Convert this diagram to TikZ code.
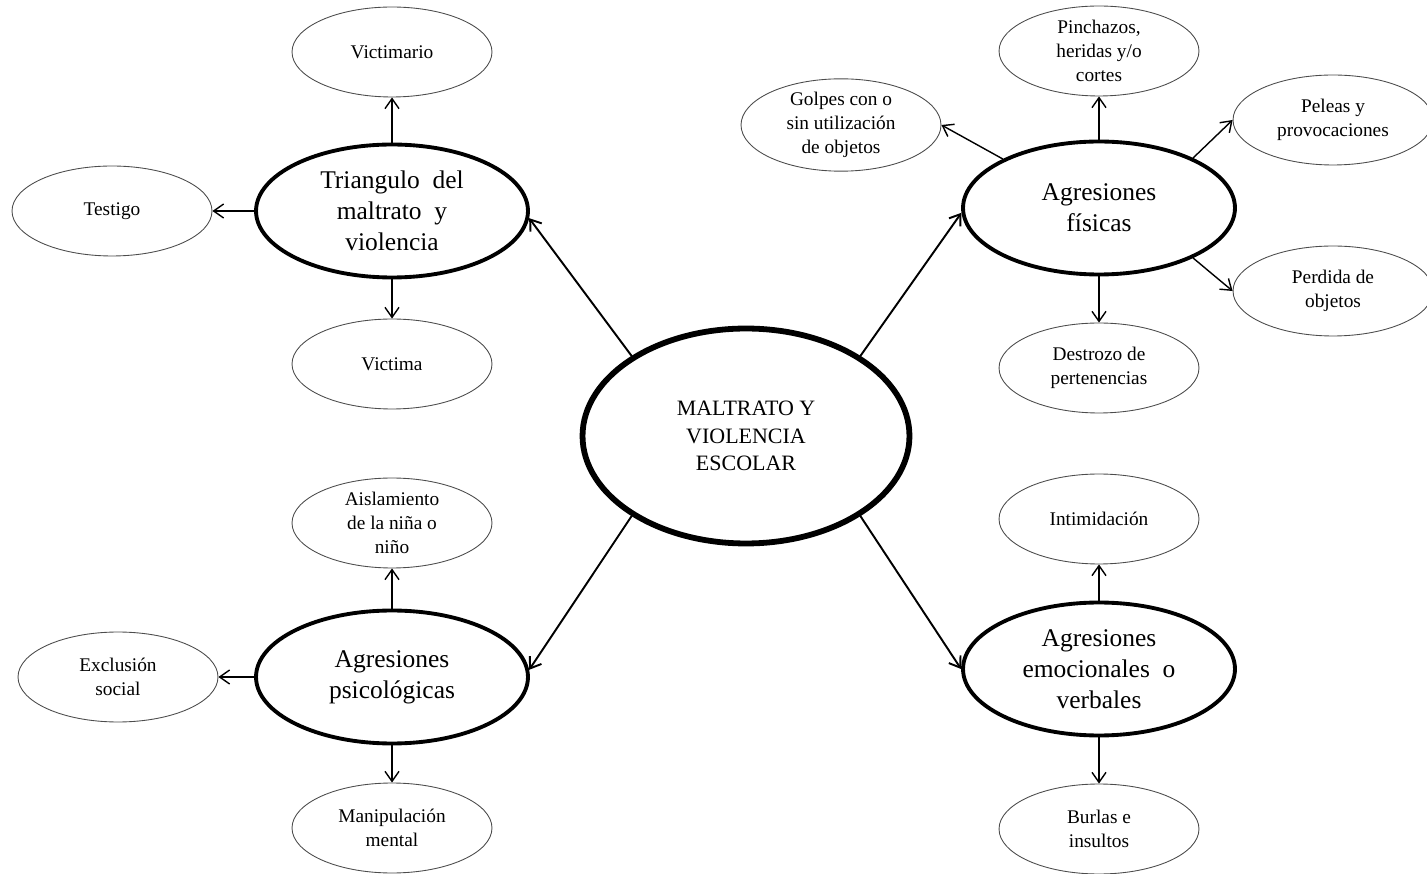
\documentclass[tikz,border=0pt]{standalone}
\usepackage{fontspec}
\setmainfont{Liberation Serif}
\usetikzlibrary{shapes.geometric, arrows.meta}
\tikzstyle{hub} = [ellipse,
minimum width=6.54cm,
minimum height=4.3cm,
inner sep=0pt,
align=center,
draw=black,
line width=3.3pt,
fill=white,
font=\fontsize{12.5}{15.6}\selectfont]
\tikzstyle{branch} = [ellipse,
minimum width=5.44cm,
minimum height=2.66cm,
inner sep=0pt,
align=center,
draw=black,
line width=2.2pt,
fill=white,
font=\fontsize{14.5}{17.5}\selectfont]
\tikzstyle{leaf} = [ellipse,
minimum width=4cm,
minimum height=1.8cm,
inner sep=0pt,
align=center,
draw=black!70,
line width=0.5pt,
fill=white,
font=\fontsize{11}{13.6}\selectfont]
\tikzstyle{arrow} = [line width=1.1pt,-{Straight Barb[length=2mm,width=2.8mm]}]
\tikzstyle{leafarrow} = [line width=0.8pt,-{Straight Barb[length=2mm,width=2.8mm]}]

\begin{document}
\begin{tikzpicture}[x=0.02cm, y=-0.02cm]
  \useasboundingbox (0,0) rectangle (1427,874);
  \node at (746,436) (escolar) [hub] {MALTRATO Y\\VIOLENCIA\\ESCOLAR};

  \node at (392,211) (triangulo) [branch] {Triangulo~~del\\maltrato~~y\\violencia};
  \node at (392,52) (victimario) [leaf] {Victimario};
  \node at (112,211) (testigo) [leaf] {Testigo};
  \node at (392,364) (victima) [leaf] {Victima};

  \node at (1099,208) (fisicas) [branch] {Agresiones\\físicas};
  \node at (841,125) (golpes) [leaf] {Golpes con o\\sin utilización\\de objetos};
  \node at (1099,51) (pinchazos) [leaf] {Pinchazos,\\heridas y/o\\cortes};
  \node at (1333,120) (peleas) [leaf] {Peleas y\\provocaciones};
  \node at (1333,291) (perdida) [leaf] {Perdida de\\objetos};
  \node at (1099,368) (destrozo) [leaf] {Destrozo de\\pertenencias};

  \node at (392,677) (psico) [branch] {Agresiones\\psicológicas};
  \node at (392,523) (aislamiento) [leaf] {Aislamiento\\de la niña o\\niño};
  \node at (118,677) (exclusion) [leaf] {Exclusión\\social};
  \node at (392,828) (manipulacion) [leaf] {Manipulación\\mental};

  \node at (1099,669) (emocional) [branch] {Agresiones\\emocionales~~o\\verbales};
  \node at (1099,519) (intimidacion) [leaf] {Intimidación};
  \node at (1099,829) (burlas) [leaf] {Burlas e\\insultos};

  \draw [arrow] (escolar.145) -- (triangulo.-3);
  \draw [arrow] (escolar.35) -- (fisicas.182);
  \draw [arrow] (escolar.-145) -- (psico.3);
  \draw [arrow] (escolar.-35) -- (emocional.west);

  \draw [leafarrow] (triangulo.north) -- (victimario.south);
  \draw [leafarrow] (triangulo.west) -- (testigo.east);
  \draw [leafarrow] (triangulo.south) -- (victima.north);
  \draw [leafarrow] (fisicas.153) -- (golpes.east);
  \draw [leafarrow] (fisicas.north) -- (pinchazos.south);
  \draw [leafarrow] (fisicas.28) -- (peleas.west);
  \draw [leafarrow] (fisicas.-28) -- (perdida.west);
  \draw [leafarrow] (fisicas.south) -- (destrozo.north);
  \draw [leafarrow] (psico.north) -- (aislamiento.south);
  \draw [leafarrow] (psico.west) -- (exclusion.east);
  \draw [leafarrow] (psico.south) -- (manipulacion.north);
  \draw [leafarrow] (emocional.north) -- (intimidacion.south);
  \draw [leafarrow] (emocional.south) -- (burlas.north);
\end{tikzpicture}
\end{document}
